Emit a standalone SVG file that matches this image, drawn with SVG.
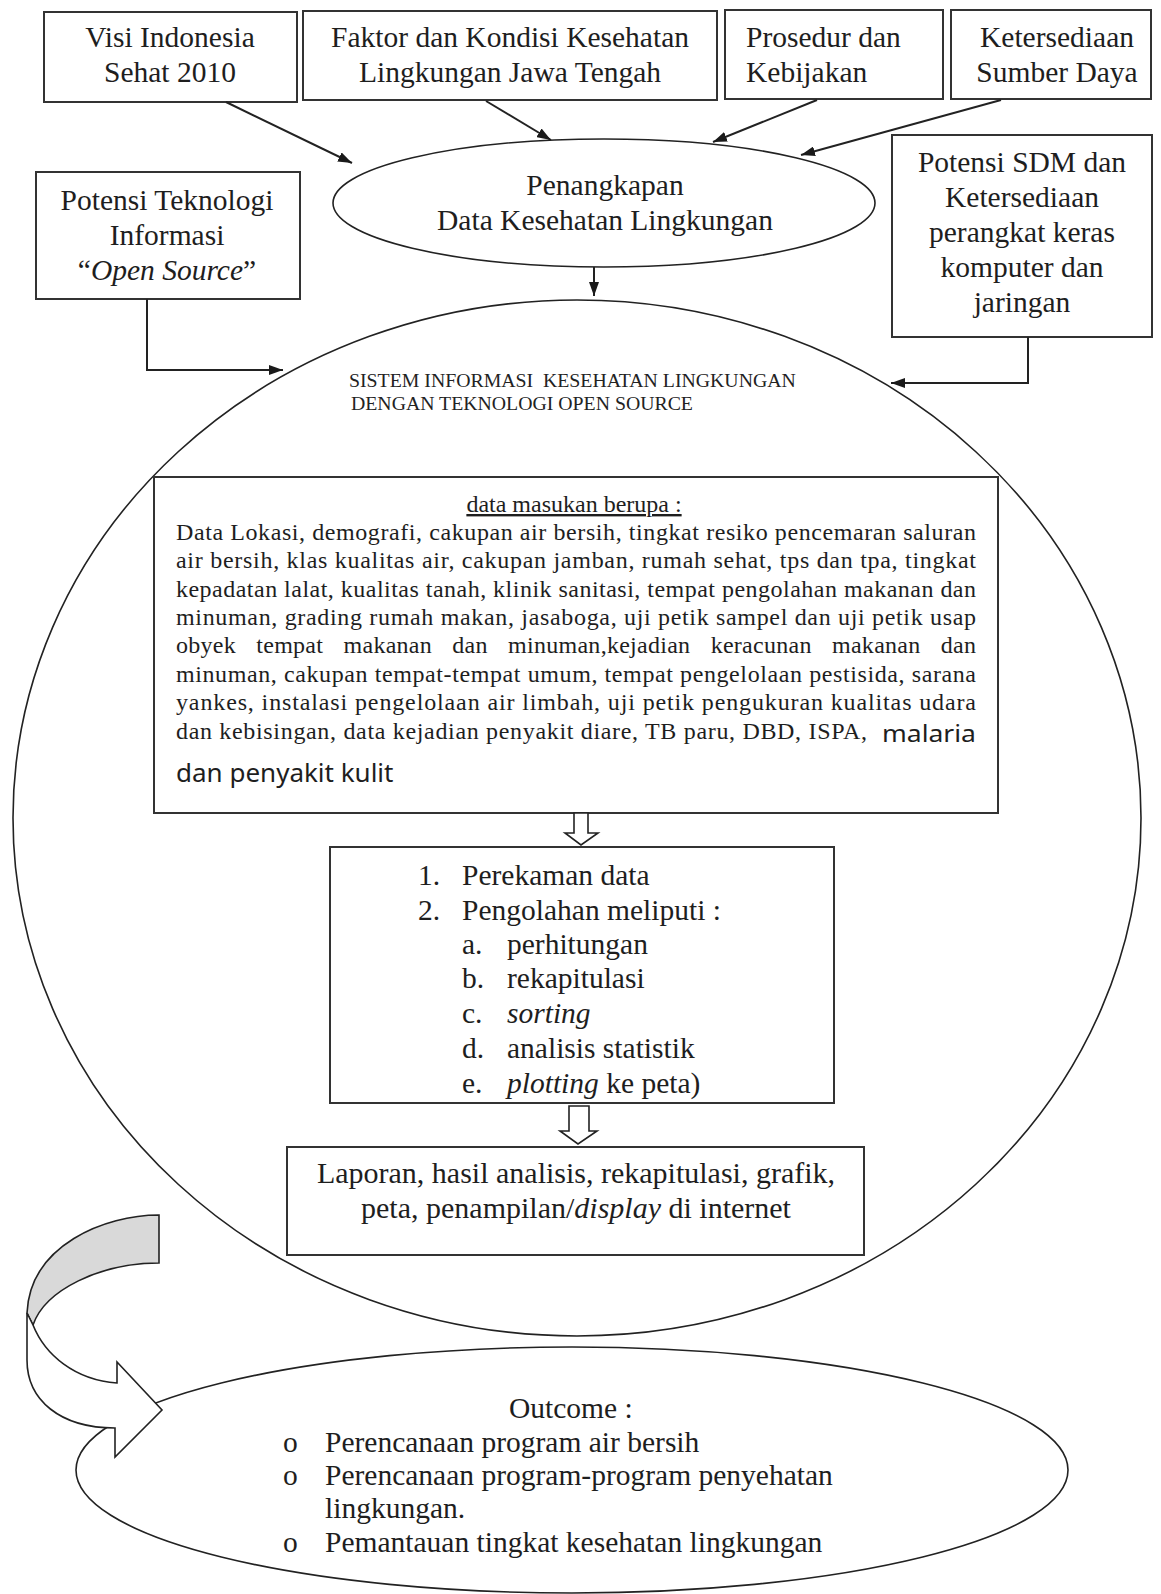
<svg xmlns="http://www.w3.org/2000/svg" width="1161" height="1594" viewBox="0 0 1161 1594">
<defs>
<marker id="ah" viewBox="0 0 14 10" refX="14" refY="5" markerWidth="14" markerHeight="10" markerUnits="userSpaceOnUse" orient="auto">
<path d="M0,0 L14,5 L0,10 Z" fill="#1a1a1a"/>
</marker>
<style>
.box{fill:#fff;stroke:#333;stroke-width:2}
.shape{fill:none;stroke:#222;stroke-width:1.6}
.t{font-family:"Liberation Serif","Times New Roman",serif;font-size:29.5px;fill:#1e1e1e}
.c{text-anchor:middle}
.i{font-style:italic}
.p{font-family:"Liberation Serif","Times New Roman",serif;font-size:24px;fill:#1e1e1e}
.s{font-family:"Noto Sans","DejaVu Sans",sans-serif;font-size:26px;fill:#1e1e1e}
.cap{font-family:"Liberation Serif","Times New Roman",serif;font-size:19.8px;fill:#222;white-space:pre}
.con{fill:none;stroke:#222;stroke-width:2}
.hollow{fill:#fff;stroke:#222;stroke-width:1.6}
</style>
</defs>
<rect width="1161" height="1594" fill="#fff"/>

<g id="sistem-circle">
<ellipse class="shape" cx="577" cy="818" rx="564" ry="518"/>
<text class="cap" x="349" y="387">SISTEM INFORMASI  KESEHATAN LINGKUNGAN</text>
<text class="cap" x="351" y="410">DENGAN TEKNOLOGI OPEN SOURCE</text>
</g>

<g id="visi">
<rect class="box" x="44" y="12" width="253" height="90"/>
<text class="t c" x="170" y="47">Visi Indonesia</text>
<text class="t c" x="170" y="82">Sehat 2010</text>
</g>

<g id="faktor">
<rect class="box" x="303" y="11" width="414" height="89"/>
<text class="t c" x="510" y="47">Faktor dan Kondisi Kesehatan</text>
<text class="t c" x="510" y="82">Lingkungan Jawa Tengah</text>
</g>

<g id="prosedur">
<rect class="box" x="725" y="10" width="218" height="89"/>
<text class="t" x="746" y="47">Prosedur dan</text>
<text class="t" x="746" y="82">Kebijakan</text>
</g>

<g id="ketersediaan">
<rect class="box" x="951" y="10" width="200" height="89"/>
<text class="t c" x="1057" y="47">Ketersediaan</text>
<text class="t c" x="1057" y="82">Sumber Daya</text>
</g>

<g id="penangkapan">
<ellipse class="shape" cx="604" cy="203" rx="271" ry="64"/>
<text class="t c" x="605" y="195">Penangkapan</text>
<text class="t c" x="605" y="230">Data Kesehatan Lingkungan</text>
</g>

<g id="potensi-ti">
<rect class="box" x="36" y="172" width="264" height="127"/>
<text class="t c" x="167" y="210">Potensi Teknologi</text>
<text class="t c" x="167" y="245">Informasi</text>
<text class="t c" x="167" y="280">“<tspan class="i">Open Source</tspan>”</text>
</g>

<g id="potensi-sdm">
<rect class="box" x="892" y="135" width="260" height="202"/>
<text class="t c" x="1022" y="172">Potensi SDM dan</text>
<text class="t c" x="1022" y="207">Ketersediaan</text>
<text class="t c" x="1022" y="242">perangkat keras</text>
<text class="t c" x="1022" y="277">komputer dan</text>
<text class="t c" x="1022" y="312">jaringan</text>
</g>

<g id="data-masukan">
<rect class="box" x="154" y="477" width="844" height="336"/>
<text class="p c" x="574" y="512" text-decoration="underline">data masukan berupa :</text>
<text class="p" x="176" y="540" textLength="800" lengthAdjust="spacing">Data Lokasi, demografi, cakupan air bersih, tingkat resiko pencemaran saluran</text>
<text class="p" x="176" y="568" textLength="800" lengthAdjust="spacing">air bersih, klas kualitas air, cakupan jamban, rumah sehat, tps dan tpa, tingkat</text>
<text class="p" x="176" y="597" textLength="800" lengthAdjust="spacing">kepadatan lalat, kualitas tanah, klinik sanitasi, tempat pengolahan makanan dan</text>
<text class="p" x="176" y="625" textLength="800" lengthAdjust="spacing">minuman, grading rumah makan, jasaboga, uji petik sampel dan uji petik usap</text>
<text class="p" x="176" y="653" textLength="800" lengthAdjust="spacing" word-spacing="14">obyek tempat makanan dan minuman,kejadian keracunan makanan dan</text>
<text class="p" x="176" y="682" textLength="800" lengthAdjust="spacing">minuman, cakupan tempat-tempat umum, tempat pengelolaan pestisida, sarana</text>
<text class="p" x="176" y="710" textLength="800" lengthAdjust="spacing">yankes, instalasi pengelolaan air limbah, uji petik pengukuran kualitas udara</text>
<text class="p" x="176" y="739" textLength="691" lengthAdjust="spacing">dan kebisingan, data kejadian penyakit diare, TB paru, DBD, ISPA,</text>
<text class="s" x="882" y="742" style="font-size:24px" textLength="94" lengthAdjust="spacingAndGlyphs">malaria</text>
<text class="s" x="176" y="782">dan penyakit kulit</text>
</g>

<g id="pengolahan">
<rect class="box" x="330" y="847" width="504" height="256"/>
<text class="t" x="418" y="885">1.</text><text class="t" x="462" y="885">Perekaman data</text>
<text class="t" x="418" y="920">2.</text><text class="t" x="462" y="920">Pengolahan meliputi :</text>
<text class="t" x="462" y="954">a.</text><text class="t" x="507" y="954">perhitungan</text>
<text class="t" x="462" y="988">b.</text><text class="t" x="507" y="988">rekapitulasi</text>
<text class="t" x="462" y="1023">c.</text><text class="t i" x="507" y="1023">sorting</text>
<text class="t" x="462" y="1058">d.</text><text class="t" x="507" y="1058">analisis statistik</text>
<text class="t" x="462" y="1093">e.</text><text class="t" x="507" y="1093"><tspan class="i">plotting</tspan> ke peta)</text>
</g>

<g id="laporan">
<rect class="box" x="287" y="1147" width="577" height="108"/>
<text class="t c" x="576" y="1183" style="font-size:30px">Laporan, hasil analisis, rekapitulasi, grafik,</text>
<text class="t c" x="576" y="1218" style="font-size:30px">peta, penampilan/<tspan class="i">display</tspan> di internet</text>
</g>

<g id="outcome">
<ellipse class="shape" cx="572" cy="1470" rx="496" ry="123"/>
<text class="t" x="509" y="1418">Outcome :</text>
<text class="t" x="283" y="1452">o</text><text class="t" x="325" y="1452">Perencanaan program air bersih</text>
<text class="t" x="283" y="1485">o</text><text class="t" x="325" y="1485">Perencanaan program-program penyehatan</text>
<text class="t" x="325" y="1518">lingkungan.</text>
<text class="t" x="283" y="1552">o</text><text class="t" x="325" y="1552">Pemantauan tingkat kesehatan lingkungan</text>
</g>

<g id="connectors">
<line class="con" x1="226" y1="102" x2="352" y2="163" marker-end="url(#ah)"/>
<line class="con" x1="486" y1="101" x2="551" y2="140" marker-end="url(#ah)"/>
<line class="con" x1="817" y1="100" x2="713" y2="142" marker-end="url(#ah)"/>
<line class="con" x1="1001" y1="100" x2="801" y2="155" marker-end="url(#ah)"/>
<line class="con" x1="594" y1="267" x2="594" y2="296" marker-end="url(#ah)"/>
<polyline class="con" points="147,299 147,370 283,370" marker-end="url(#ah)"/>
<polyline class="con" points="1028,337 1028,383 891,383" marker-end="url(#ah)"/>
<path class="hollow" d="M574,813 L574,833 L565,833 L581,845 L598,833 L588,833 L588,813 Z"/>
<path class="hollow" d="M569,1106 L569,1131 L560,1131 L578,1144 L597,1131 L589,1131 L589,1106 Z"/>
<path d="M159,1215 C105,1215 30,1245 27,1313 L33,1325 C45,1290 100,1263 159,1263 Z" fill="#d9d9d9" stroke="#222" stroke-width="1.6"/>
<path d="M33,1325 C45,1355 75,1380 117,1383 L117,1362 L162,1410 L115,1457 L115,1428 C60,1428 27,1400 27,1360 L27,1313 Z" fill="#fff" stroke="#222" stroke-width="1.6"/>
</g>
</svg>
